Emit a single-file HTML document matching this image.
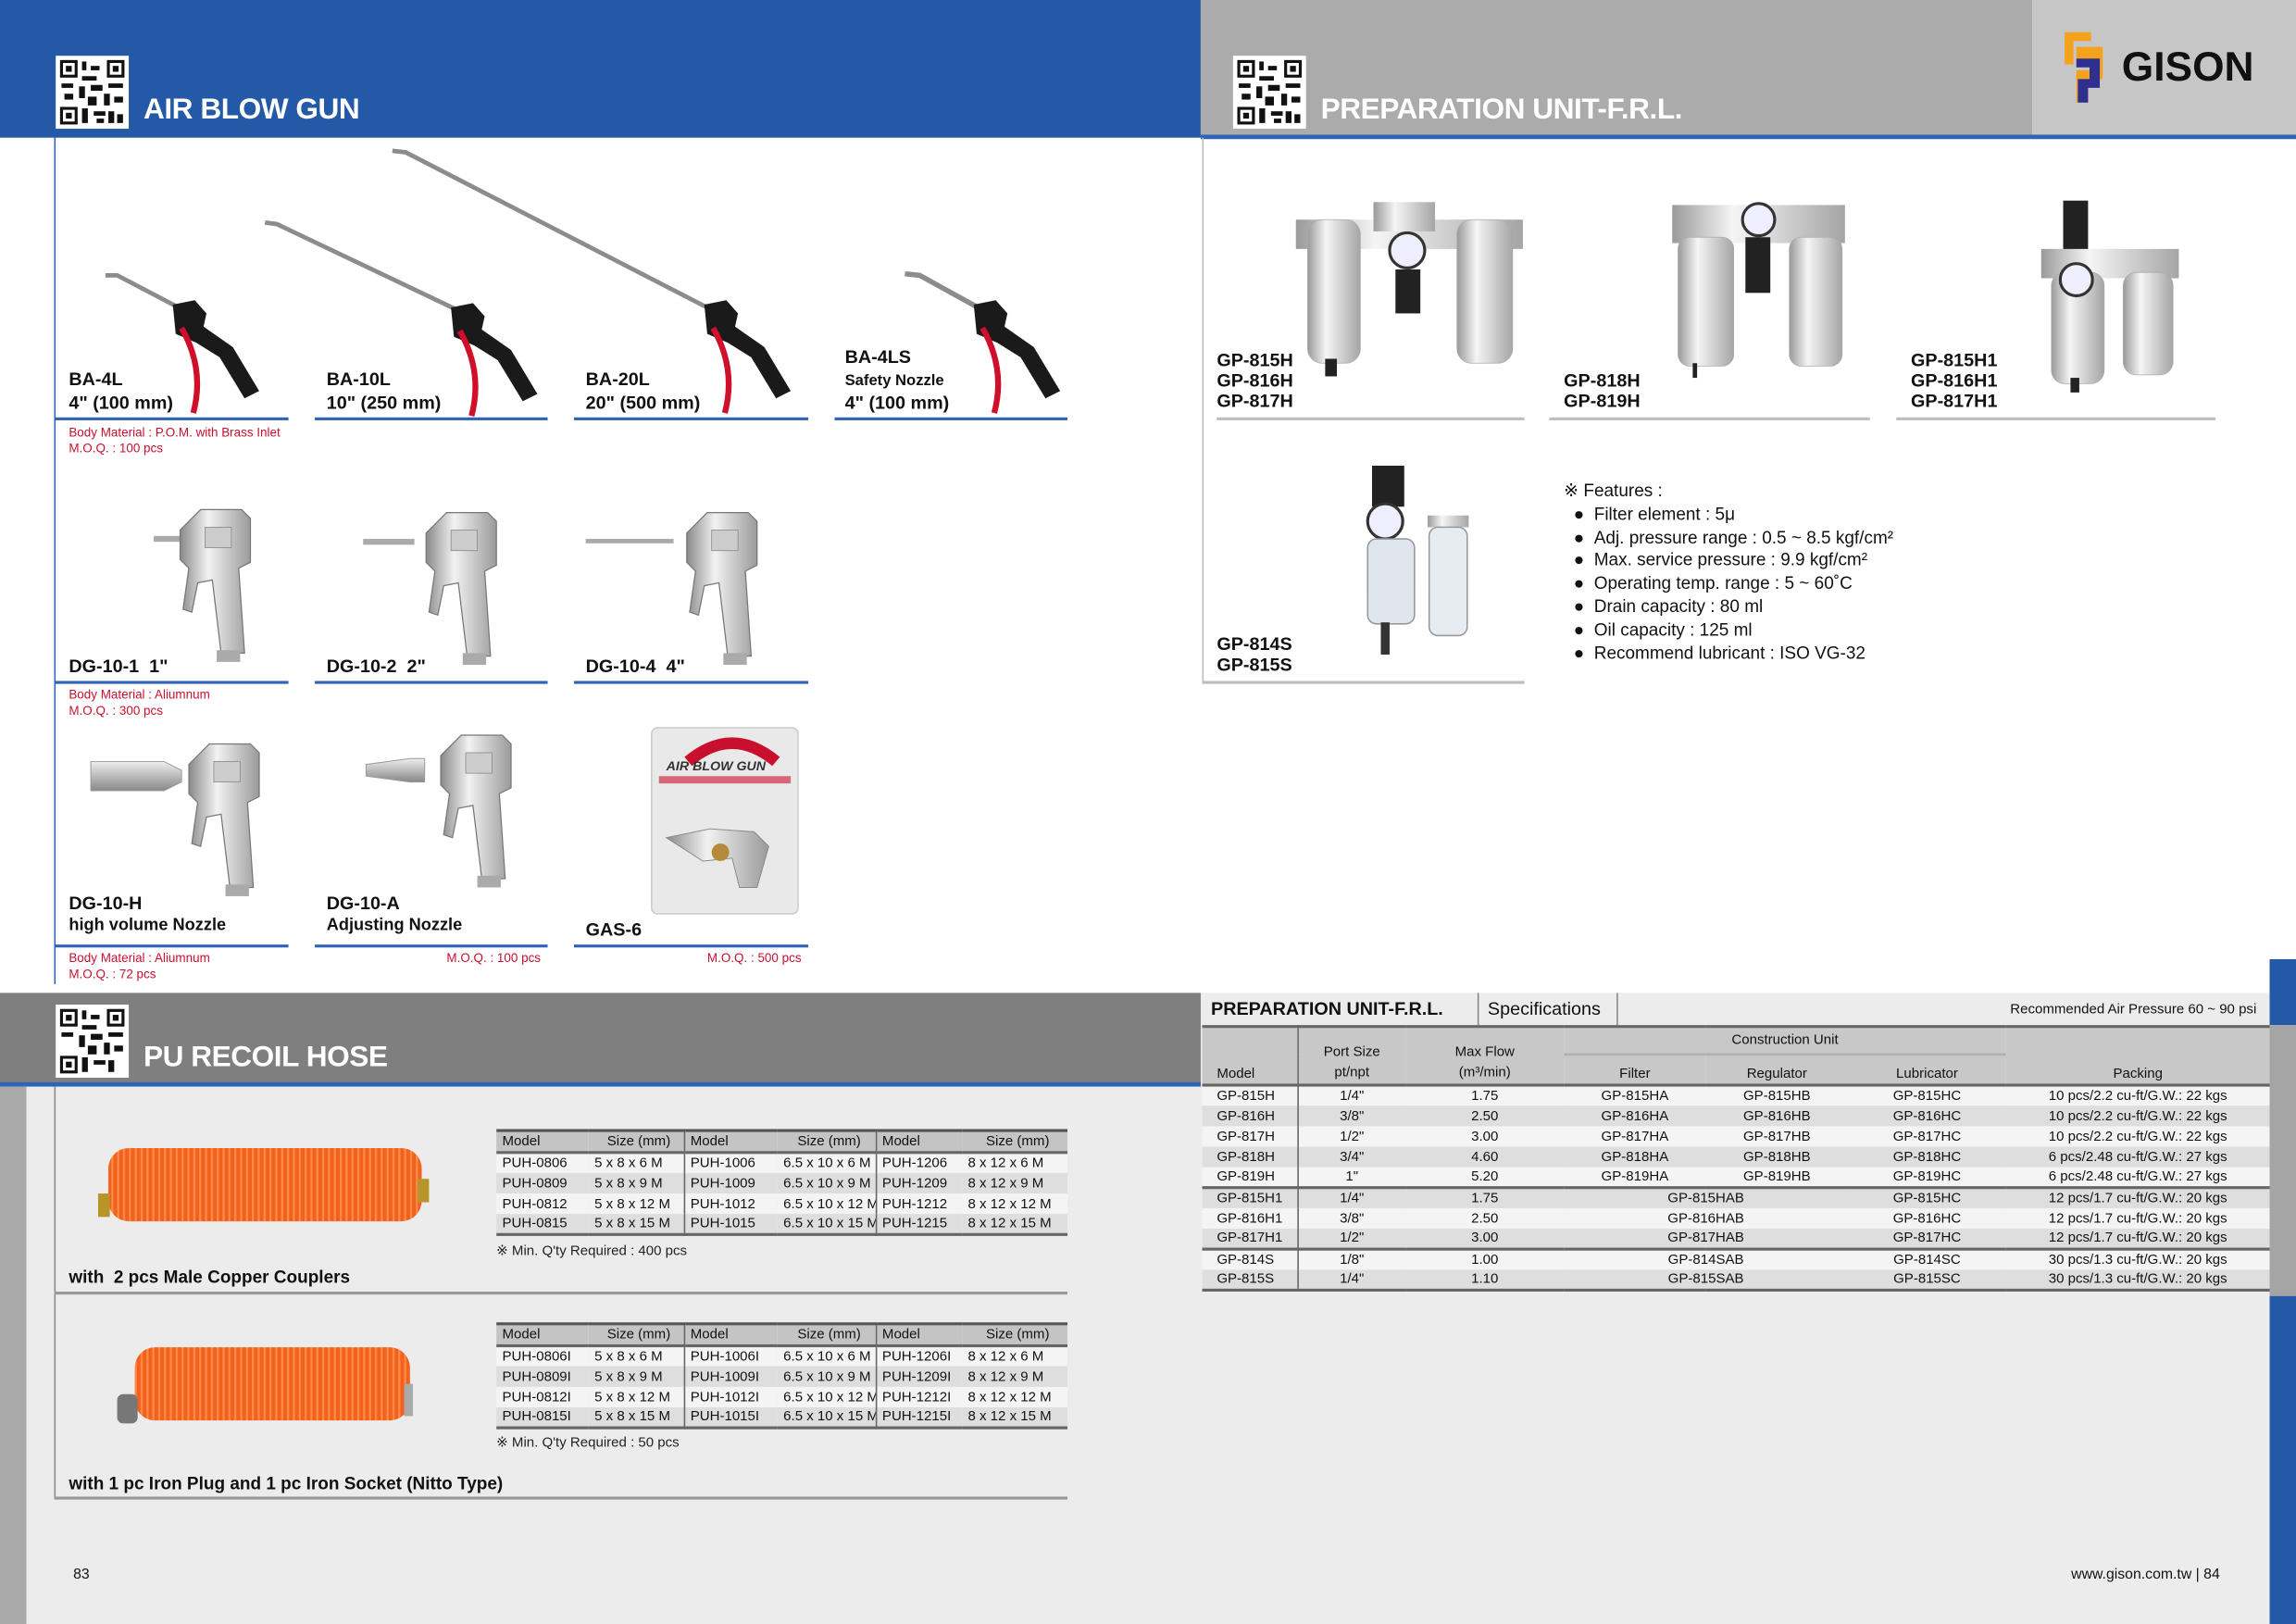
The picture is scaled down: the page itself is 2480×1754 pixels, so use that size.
<!DOCTYPE html>
<html><head><meta charset="utf-8"><style>
*{margin:0;padding:0;box-sizing:border-box}
body{width:2480px;height:1754px;overflow:hidden;background:#fff;font-family:"Liberation Sans",Arial,sans-serif}
#pg{position:absolute;left:0;top:0;width:1568px;height:1109px;transform:scale(1.58163);transform-origin:0 0;background:#fff;overflow:hidden}
.a{position:absolute;white-space:nowrap}
.b{font-weight:bold}
.lab{font-size:12.5px;font-weight:bold;color:#111;line-height:16px}
.red{font-size:8.5px;color:#c8102e;line-height:11px}
.ul{position:absolute;height:2px;background:#2f63b5}
.gl{position:absolute;height:2px;background:#bdbdbd}
table{border-collapse:collapse;position:absolute;font-size:9.5px;color:#111;table-layout:fixed}
td{padding:0 0 0 4px;height:14px;line-height:13px;white-space:nowrap;overflow:hidden}
.ht td{background:#c4c4c4;border-top:2px solid #555;border-bottom:2px solid #666}
.r1 td{background:#f4f4f4}.r2 td{background:#dedede}
.ft td{text-align:center;padding:0}
</style></head><body><div id="pg">

<div class="a" style="left:0;top:0;width:820px;height:94px;background:#2359a6"></div>
<div class="a" style="left:820px;top:0;width:568px;height:93px;background:#ababab"></div>
<div class="a" style="left:1388px;top:0;width:180px;height:93px;background:#c6c6c6"></div>
<div class="a" style="left:820px;top:92px;width:748px;height:3px;background:#2f63b5"></div>

<svg class="a" style="left:38px;top:38px" width="50" height="50" viewBox="0 0 50 50"><rect width="50" height="50" fill="#fff"/><g fill="#111"><rect x="3" y="3" width="12" height="12"/><rect x="35" y="3" width="12" height="12"/><rect x="3" y="35" width="12" height="12"/></g><g fill="#fff"><rect x="5" y="5" width="8" height="8"/><rect x="37" y="5" width="8" height="8"/><rect x="5" y="37" width="8" height="8"/></g><g fill="#111"><rect x="7" y="7" width="4" height="4"/><rect x="39" y="7" width="4" height="4"/><rect x="7" y="39" width="4" height="4"/><rect x="18" y="4" width="3" height="6"/><rect x="24" y="7" width="6" height="3"/><rect x="18" y="14" width="10" height="3"/><rect x="4" y="19" width="8" height="3"/><rect x="16" y="21" width="4" height="8"/><rect x="24" y="20" width="8" height="4"/><rect x="36" y="19" width="10" height="3"/><rect x="33" y="26" width="4" height="8"/><rect x="40" y="28" width="6" height="4"/><rect x="6" y="26" width="6" height="4"/><rect x="22" y="28" width="6" height="6"/><rect x="18" y="36" width="4" height="10"/><rect x="26" y="38" width="8" height="3"/><rect x="36" y="38" width="4" height="8"/><rect x="42" y="40" width="4" height="6"/><rect x="28" y="43" width="5" height="3"/></g></svg>
<svg class="a" style="left:842px;top:38px" width="50" height="50" viewBox="0 0 50 50"><rect width="50" height="50" fill="#fff"/><g fill="#111"><rect x="3" y="3" width="12" height="12"/><rect x="35" y="3" width="12" height="12"/><rect x="3" y="35" width="12" height="12"/></g><g fill="#fff"><rect x="5" y="5" width="8" height="8"/><rect x="37" y="5" width="8" height="8"/><rect x="5" y="37" width="8" height="8"/></g><g fill="#111"><rect x="7" y="7" width="4" height="4"/><rect x="39" y="7" width="4" height="4"/><rect x="7" y="39" width="4" height="4"/><rect x="18" y="4" width="3" height="6"/><rect x="24" y="7" width="6" height="3"/><rect x="18" y="14" width="10" height="3"/><rect x="4" y="19" width="8" height="3"/><rect x="16" y="21" width="4" height="8"/><rect x="24" y="20" width="8" height="4"/><rect x="36" y="19" width="10" height="3"/><rect x="33" y="26" width="4" height="8"/><rect x="40" y="28" width="6" height="4"/><rect x="6" y="26" width="6" height="4"/><rect x="22" y="28" width="6" height="6"/><rect x="18" y="36" width="4" height="10"/><rect x="26" y="38" width="8" height="3"/><rect x="36" y="38" width="4" height="8"/><rect x="42" y="40" width="4" height="6"/><rect x="28" y="43" width="5" height="3"/></g></svg>

<div class="a b" style="left:98px;top:64px;font-size:20px;color:#fff;letter-spacing:-0.3px">AIR BLOW GUN</div>
<div class="a b" style="left:902px;top:64px;font-size:20px;color:#fff;letter-spacing:-0.3px">PREPARATION UNIT-F.R.L.</div>
<svg class="a" style="left:1408px;top:20px" width="36" height="52" viewBox="0 0 36 52"><path d="M2 2h18v6H8v16H2z" fill="#f4a21c"/><path d="M10 12h18v22H18v16h-8V28h10V20H10z" fill="#f4a21c"/><path d="M10 20h16v20H18v10h-7V34h8v-8h-9z" fill="#2f2f8f"/></svg>
<div class="a b" style="left:1449px;top:30px;font-size:28px;color:#111">GISON</div>

<div class="a" style="left:37px;top:94px;width:1px;height:578px;background:#2f63b5"></div>
<div class="a" style="left:821px;top:94px;width:1px;height:372px;background:#bbb"></div>

<svg class="a" style="left:0;top:94px" width="820" height="580" viewBox="0 94 820 580">
<defs><linearGradient id="sv" x1="0" x2="1"><stop offset="0" stop-color="#8a8a8a"/><stop offset=".4" stop-color="#f2f2f2"/><stop offset="1" stop-color="#9a9a9a"/></linearGradient>
<linearGradient id="sv2" x1="0" y1="0" x2="0" y2="1"><stop offset="0" stop-color="#eee"/><stop offset=".5" stop-color="#bbb"/><stop offset="1" stop-color="#888"/></linearGradient>
<g id="h"><path d="M-2 0l15-3 8 9-2 9 20 14 18 30-10 5-17-28-16-10-14-6z" fill="#1a1a1a"/><path d="M4 16q16 28 8 58" stroke="#d0102a" stroke-width="4" fill="none"/></g>
<g id="dg"><path d="M25 0h28l6 6v30l-8 4 4 58h-16l-6-50-10 2-4 20-6-2 4-28-6-6v-20z" fill="url(#sv)" stroke="#777" stroke-width=".8"/><rect x="28" y="12" width="18" height="14" fill="#ccc" stroke="#888" stroke-width=".5"/><rect x="36" y="96" width="16" height="8" fill="#aaa"/></g></defs>
<path d="M72 188l8 0 42 22" stroke="#8c8c8c" stroke-width="3" fill="none"/>
<use href="#h" x="120" y="208"/>
<path d="M181 152l8 1 124 59" stroke="#8c8c8c" stroke-width="3" fill="none"/>
<use href="#h" x="310" y="210"/>
<path d="M268 103l9 1 206 106" stroke="#8c8c8c" stroke-width="3" fill="none"/>
<use href="#h" x="483" y="208"/>
<path d="M618 187l10 1 40 22" stroke="#8c8c8c" stroke-width="3.5" fill="none"/>
<use href="#h" x="667" y="208"/>
<rect x="105" y="366" width="25" height="4" fill="#aaa"/><use href="#dg" x="112" y="348"/>
<rect x="248" y="368" width="35" height="4" fill="#aaa"/><use href="#dg" x="280" y="350"/>
<rect x="400" y="368" width="60" height="3" fill="#aaa"/><use href="#dg" x="458" y="350"/>
<path d="M62 520h50l12 6v8l-12 6h-50z" fill="url(#sv2)" stroke="#999" stroke-width=".6"/><use href="#dg" x="118" y="508"/>
<path d="M250 522l30-4h10v16h-10l-30-4z" fill="url(#sv2)" stroke="#999" stroke-width=".6"/><use href="#dg" x="290" y="502"/>
<rect x="445" y="497" width="100" height="127" rx="4" fill="#e9e9e9" stroke="#ccc"/>
<path d="M470 520q30-25 60 0" stroke="#c8102e" stroke-width="8" fill="none"/>
<text x="455" y="526" font-family="Liberation Sans" font-size="9" font-weight="bold" font-style="italic" fill="#333">AIR BLOW GUN</text>
<rect x="450" y="530" width="90" height="5" fill="#c8102e" opacity=".6"/>
<path d="M455 572l30-6 30 2 10 10-8 28-12 0-5-20-20 2z" fill="url(#sv)" stroke="#888" stroke-width=".6"/>
<circle cx="492" cy="582" r="6" fill="#b58a3a"/>
</svg>

<div class="a lab" style="left:47px;top:251px">BA-4L<br>4" (100 mm)</div>
<div class="a lab" style="left:223px;top:251px">BA-10L<br>10" (250 mm)</div>
<div class="a lab" style="left:400px;top:251px">BA-20L<br>20" (500 mm)</div>
<div class="a lab" style="left:577px;top:236px">BA-4LS</div>
<div class="a b" style="left:577px;top:254px;font-size:10.5px;color:#111">Safety Nozzle</div>
<div class="a lab" style="left:577px;top:267px">4" (100 mm)</div>
<div class="ul" style="left:37px;top:285px;width:160px"></div><div class="ul" style="left:215px;top:285px;width:159px"></div><div class="ul" style="left:392px;top:285px;width:160px"></div><div class="ul" style="left:570px;top:285px;width:159px"></div>
<div class="a red" style="left:47px;top:290px">Body Material : P.O.M. with Brass Inlet<br>M.O.Q. : 100 pcs</div>

<div class="a lab" style="left:47px;top:447px">DG-10-1&nbsp; 1"</div>
<div class="a lab" style="left:223px;top:447px">DG-10-2&nbsp; 2"</div>
<div class="a lab" style="left:400px;top:447px">DG-10-4&nbsp; 4"</div>
<div class="ul" style="left:37px;top:465px;width:160px"></div><div class="ul" style="left:215px;top:465px;width:159px"></div><div class="ul" style="left:392px;top:465px;width:160px"></div>
<div class="a red" style="left:47px;top:469px">Body Material : Aliumnum<br>M.O.Q. : 300 pcs</div>

<div class="a lab" style="left:47px;top:609px">DG-10-H</div>
<div class="a b" style="left:47px;top:626px;font-size:11.5px;color:#111">high volume Nozzle</div>
<div class="a lab" style="left:223px;top:609px">DG-10-A</div>
<div class="a b" style="left:223px;top:626px;font-size:11.5px;color:#111">Adjusting Nozzle</div>
<div class="a lab" style="left:400px;top:627px">GAS-6</div>
<div class="ul" style="left:37px;top:645px;width:160px"></div><div class="ul" style="left:215px;top:645px;width:159px"></div><div class="ul" style="left:392px;top:645px;width:160px"></div>
<div class="a red" style="left:47px;top:649px">Body Material : Aliumnum<br>M.O.Q. : 72 pcs</div>
<div class="a red" style="left:305px;top:649px">M.O.Q. : 100 pcs</div>
<div class="a red" style="left:483px;top:649px">M.O.Q. : 500 pcs</div>

<svg class="a" style="left:822px;top:94px" width="746" height="380" viewBox="822 94 746 380">
<defs><linearGradient id="c" x1="0" x2="1"><stop offset="0" stop-color="#9a9a9a"/><stop offset=".35" stop-color="#f5f5f5"/><stop offset="1" stop-color="#a5a5a5"/></linearGradient></defs>
<rect x="885" y="150" width="155" height="20" fill="url(#c)"/>
<rect x="893" y="150" width="36" height="98" rx="10" fill="url(#c)" stroke="#aaa" stroke-width=".5"/>
<rect x="995" y="150" width="38" height="98" rx="10" fill="url(#c)" stroke="#aaa" stroke-width=".5"/>
<rect x="938" y="138" width="42" height="20" fill="url(#c)"/>
<circle cx="961" cy="171" r="12" fill="#eef" stroke="#333" stroke-width="2"/>
<rect x="953" y="184" width="17" height="30" fill="#222"/>
<rect x="905" y="245" width="8" height="12" fill="#222"/>
<rect x="1142" y="140" width="118" height="26" fill="url(#c)"/>
<circle cx="1201" cy="150" r="11" fill="#eef" stroke="#333" stroke-width="2"/>
<rect x="1146" y="162" width="38" height="88" rx="8" fill="url(#c)" stroke="#aaa" stroke-width=".5"/>
<rect x="1222" y="162" width="36" height="88" rx="8" fill="url(#c)" stroke="#aaa" stroke-width=".5"/>
<rect x="1192" y="162" width="17" height="38" fill="#222"/>
<rect x="1156" y="248" width="3" height="10" fill="#222"/>
<rect x="1409" y="137" width="17" height="35" fill="#222"/>
<rect x="1394" y="170" width="94" height="20" fill="url(#c)"/>
<rect x="1401" y="186" width="36" height="76" rx="9" fill="url(#c)" stroke="#aaa" stroke-width=".5"/>
<rect x="1450" y="186" width="34" height="70" rx="9" fill="url(#c)" stroke="#aaa" stroke-width=".5"/>
<circle cx="1418" cy="191" r="11" fill="#eef" stroke="#333" stroke-width="2"/>
<rect x="1414" y="258" width="6" height="10" fill="#222"/>
<rect x="937" y="318" width="22" height="28" fill="#222"/>
<circle cx="946" cy="356" r="12" fill="#eef" stroke="#333" stroke-width="2"/>
<rect x="934" y="368" width="32" height="58" rx="6" fill="#dfe6ee" stroke="#999"/>
<rect x="975" y="352" width="28" height="8" fill="url(#c)"/>
<rect x="976" y="360" width="26" height="74" rx="6" fill="#e6ecf2" stroke="#999"/>
<rect x="943" y="425" width="6" height="22" fill="#333"/>
</svg>
<div class="a lab" style="left:831px;top:239px;line-height:14px">GP-815H<br>GP-816H<br>GP-817H</div>
<div class="a lab" style="left:1068px;top:253px;line-height:14px">GP-818H<br>GP-819H</div>
<div class="a lab" style="left:1305px;top:239px;line-height:14px">GP-815H1<br>GP-816H1<br>GP-817H1</div>
<div class="a lab" style="left:831px;top:433px;line-height:14px">GP-814S<br>GP-815S</div>
<div class="gl" style="left:831px;top:285px;width:210px"></div><div class="gl" style="left:1058px;top:285px;width:219px"></div><div class="gl" style="left:1295px;top:285px;width:218px"></div>
<div class="gl" style="left:821px;top:465px;width:220px"></div>
<div class="a" style="left:1068px;top:328px;font-size:12px;color:#111;line-height:15.8px">※ Features :<br>
&nbsp;&nbsp;●&nbsp; Filter element : 5μ<br>&nbsp;&nbsp;●&nbsp; Adj. pressure range : 0.5 ~ 8.5 kgf/cm²<br>&nbsp;&nbsp;●&nbsp; Max. service pressure : 9.9 kgf/cm²<br>&nbsp;&nbsp;●&nbsp; Operating temp. range : 5 ~ 60˚C<br>&nbsp;&nbsp;●&nbsp; Drain capacity : 80 ml<br>&nbsp;&nbsp;●&nbsp; Oil capacity : 125 ml<br>&nbsp;&nbsp;●&nbsp; Recommend lubricant : ISO VG-32</div>

<div class="a" style="left:0;top:678px;width:1568px;height:431px;background:#ececec"></div>
<div class="a" style="left:0;top:678px;width:820px;height:62px;background:#7f7f7f"></div>
<div class="a" style="left:0;top:739px;width:820px;height:3px;background:#2f63b5"></div>
<div class="a" style="left:0;top:742px;width:18px;height:367px;background:#aaa"></div>
<div class="a" style="left:37px;top:742px;width:1px;height:282px;background:#888"></div>
<div class="a" style="left:1550px;top:655px;width:18px;height:45px;background:#2359a6"></div>
<div class="a" style="left:1550px;top:700px;width:18px;height:185px;background:#a5a5a5"></div>
<div class="a" style="left:1550px;top:885px;width:18px;height:224px;background:#2359a6"></div>
<svg class="a" style="left:38px;top:686px" width="50" height="50" viewBox="0 0 50 50"><rect width="50" height="50" fill="#fff"/><g fill="#111"><rect x="3" y="3" width="12" height="12"/><rect x="35" y="3" width="12" height="12"/><rect x="3" y="35" width="12" height="12"/></g><g fill="#fff"><rect x="5" y="5" width="8" height="8"/><rect x="37" y="5" width="8" height="8"/><rect x="5" y="37" width="8" height="8"/></g><g fill="#111"><rect x="7" y="7" width="4" height="4"/><rect x="39" y="7" width="4" height="4"/><rect x="7" y="39" width="4" height="4"/><rect x="18" y="4" width="3" height="6"/><rect x="24" y="7" width="6" height="3"/><rect x="18" y="14" width="10" height="3"/><rect x="4" y="19" width="8" height="3"/><rect x="16" y="21" width="4" height="8"/><rect x="24" y="20" width="8" height="4"/><rect x="36" y="19" width="10" height="3"/><rect x="33" y="26" width="4" height="8"/><rect x="40" y="28" width="6" height="4"/><rect x="22" y="28" width="6" height="6"/><rect x="18" y="36" width="4" height="10"/><rect x="26" y="38" width="8" height="3"/><rect x="36" y="38" width="4" height="8"/></g></svg>
<div class="a b" style="left:98px;top:711px;font-size:20px;color:#fff;letter-spacing:-0.3px">PU RECOIL HOSE</div>

<svg class="a" style="left:60px;top:770px" width="250" height="220" viewBox="60 770 250 220">
<defs><pattern id="coil" width="4" height="10" patternUnits="userSpaceOnUse"><rect width="4" height="10" fill="#f2621c"/><rect width="1.4" height="10" fill="#ff8a4a"/></pattern></defs>
<rect x="74" y="784" width="214" height="50" rx="14" fill="url(#coil)"/>
<rect x="67" y="815" width="8" height="16" fill="#b8952a"/><rect x="285" y="805" width="8" height="16" fill="#b8952a"/>
<rect x="92" y="920" width="188" height="50" rx="14" fill="url(#coil)"/>
<rect x="80" y="952" width="14" height="20" rx="4" fill="#777"/><rect x="276" y="945" width="6" height="22" fill="#aaa"/>
</svg>

<table style="left:339px;top:771px;width:390px">
<colgroup><col style="width:63px"><col style="width:65px"><col style="width:64px"><col style="width:67px"><col style="width:59px"><col style="width:72px"></colgroup>
<tr class="ht"><td>Model</td><td style="text-align:center">Size (mm)</td><td style="border-left:1px solid #666">Model</td><td style="text-align:center">Size (mm)</td><td style="border-left:1px solid #666">Model</td><td style="text-align:center">Size (mm)</td></tr>
<tr class="r1"><td>PUH-0806</td><td>5 x 8 x 6 M</td><td style="border-left:1px solid #666">PUH-1006</td><td>6.5 x 10 x 6 M</td><td style="border-left:1px solid #666">PUH-1206</td><td>8 x 12 x 6 M</td></tr>
<tr class="r2"><td>PUH-0809</td><td>5 x 8 x 9 M</td><td style="border-left:1px solid #666">PUH-1009</td><td>6.5 x 10 x 9 M</td><td style="border-left:1px solid #666">PUH-1209</td><td>8 x 12 x 9 M</td></tr>
<tr class="r1"><td>PUH-0812</td><td>5 x 8 x 12 M</td><td style="border-left:1px solid #666">PUH-1012</td><td>6.5 x 10 x 12 M</td><td style="border-left:1px solid #666">PUH-1212</td><td>8 x 12 x 12 M</td></tr>
<tr class="r2" style="border-bottom:2px solid #666"><td>PUH-0815</td><td>5 x 8 x 15 M</td><td style="border-left:1px solid #666">PUH-1015</td><td>6.5 x 10 x 15 M</td><td style="border-left:1px solid #666">PUH-1215</td><td>8 x 12 x 15 M</td></tr>
</table>
<div class="a" style="left:339px;top:849px;font-size:9.5px;color:#222">※ Min. Q'ty Required : 400 pcs</div>
<div class="a b" style="left:47px;top:865px;font-size:12px;color:#111">with&nbsp; 2 pcs Male Copper Couplers</div>
<div class="a" style="left:37px;top:882px;width:692px;height:2px;background:#999"></div>

<table style="left:339px;top:903px;width:390px">
<colgroup><col style="width:63px"><col style="width:65px"><col style="width:64px"><col style="width:67px"><col style="width:59px"><col style="width:72px"></colgroup>
<tr class="ht"><td>Model</td><td style="text-align:center">Size (mm)</td><td style="border-left:1px solid #666">Model</td><td style="text-align:center">Size (mm)</td><td style="border-left:1px solid #666">Model</td><td style="text-align:center">Size (mm)</td></tr>
<tr class="r1"><td>PUH-0806I</td><td>5 x 8 x 6 M</td><td style="border-left:1px solid #666">PUH-1006I</td><td>6.5 x 10 x 6 M</td><td style="border-left:1px solid #666">PUH-1206I</td><td>8 x 12 x 6 M</td></tr>
<tr class="r2"><td>PUH-0809I</td><td>5 x 8 x 9 M</td><td style="border-left:1px solid #666">PUH-1009I</td><td>6.5 x 10 x 9 M</td><td style="border-left:1px solid #666">PUH-1209I</td><td>8 x 12 x 9 M</td></tr>
<tr class="r1"><td>PUH-0812I</td><td>5 x 8 x 12 M</td><td style="border-left:1px solid #666">PUH-1012I</td><td>6.5 x 10 x 12 M</td><td style="border-left:1px solid #666">PUH-1212I</td><td>8 x 12 x 12 M</td></tr>
<tr class="r2" style="border-bottom:2px solid #666"><td>PUH-0815I</td><td>5 x 8 x 15 M</td><td style="border-left:1px solid #666">PUH-1015I</td><td>6.5 x 10 x 15 M</td><td style="border-left:1px solid #666">PUH-1215I</td><td>8 x 12 x 15 M</td></tr>
</table>
<div class="a" style="left:339px;top:980px;font-size:9.5px;color:#222">※ Min. Q'ty Required : 50 pcs</div>
<div class="a b" style="left:47px;top:1006px;font-size:12px;color:#111">with 1 pc Iron Plug and 1 pc Iron Socket (Nitto Type)</div>
<div class="a" style="left:37px;top:1022px;width:692px;height:2px;background:#999"></div>

<div class="a b" style="left:827px;top:682px;font-size:12.5px;color:#111">PREPARATION UNIT-F.R.L.</div>
<div class="a" style="left:1009px;top:678px;width:96px;height:22px;border-left:1px solid #888;border-right:1px solid #888"></div>
<div class="a" style="left:1016px;top:682px;font-size:12.5px;color:#111">Specifications</div>
<div class="a" style="right:27px;top:684px;font-size:9.5px;color:#111">Recommended Air Pressure 60 ~ 90 psi</div>
<table class="ft" style="left:821px;top:700px;width:729px">
<colgroup><col style="width:65px"><col style="width:74px"><col style="width:108px"><col style="width:97px"><col style="width:97px"><col style="width:108px"><col style="width:180px"></colgroup>
<tr style="background:#c8c8c8;border-top:2px solid #666"><td rowspan="2" style="text-align:left;padding-left:10px;vertical-align:bottom;border-right:1px solid #666;height:40px">Model</td><td rowspan="2" style="line-height:14px;vertical-align:bottom">Port Size<br>pt/npt</td><td rowspan="2" style="line-height:14px;vertical-align:bottom">Max Flow<br>(m³/min)</td><td colspan="3" style="border-bottom:2px solid #b0b0b0;height:19px">Construction Unit</td><td rowspan="2" style="vertical-align:bottom">Packing</td></tr>
<tr style="background:#c8c8c8"><td style="height:20px;vertical-align:bottom">Filter</td><td style="vertical-align:bottom">Regulator</td><td style="vertical-align:bottom">Lubricator</td></tr>
<tr class="r1" style="border-top:2px solid #666"><td style="text-align:left;padding-left:10px;border-right:1px solid #666">GP-815H</td><td>1/4"</td><td>1.75</td><td>GP-815HA</td><td>GP-815HB</td><td>GP-815HC</td><td>10 pcs/2.2 cu-ft/G.W.: 22 kgs</td></tr>
<tr class="r2"><td style="text-align:left;padding-left:10px;border-right:1px solid #666">GP-816H</td><td>3/8"</td><td>2.50</td><td>GP-816HA</td><td>GP-816HB</td><td>GP-816HC</td><td>10 pcs/2.2 cu-ft/G.W.: 22 kgs</td></tr>
<tr class="r1"><td style="text-align:left;padding-left:10px;border-right:1px solid #666">GP-817H</td><td>1/2"</td><td>3.00</td><td>GP-817HA</td><td>GP-817HB</td><td>GP-817HC</td><td>10 pcs/2.2 cu-ft/G.W.: 22 kgs</td></tr>
<tr class="r2"><td style="text-align:left;padding-left:10px;border-right:1px solid #666">GP-818H</td><td>3/4"</td><td>4.60</td><td>GP-818HA</td><td>GP-818HB</td><td>GP-818HC</td><td>6 pcs/2.48 cu-ft/G.W.: 27 kgs</td></tr>
<tr class="r1"><td style="text-align:left;padding-left:10px;border-right:1px solid #666">GP-819H</td><td>1"</td><td>5.20</td><td>GP-819HA</td><td>GP-819HB</td><td>GP-819HC</td><td>6 pcs/2.48 cu-ft/G.W.: 27 kgs</td></tr>
<tr class="r2" style="border-top:2px solid #666"><td style="text-align:left;padding-left:10px;border-right:1px solid #666">GP-815H1</td><td>1/4"</td><td>1.75</td><td colspan="2">GP-815HAB</td><td>GP-815HC</td><td>12 pcs/1.7 cu-ft/G.W.: 20 kgs</td></tr>
<tr class="r1"><td style="text-align:left;padding-left:10px;border-right:1px solid #666">GP-816H1</td><td>3/8"</td><td>2.50</td><td colspan="2">GP-816HAB</td><td>GP-816HC</td><td>12 pcs/1.7 cu-ft/G.W.: 20 kgs</td></tr>
<tr class="r2"><td style="text-align:left;padding-left:10px;border-right:1px solid #666">GP-817H1</td><td>1/2"</td><td>3.00</td><td colspan="2">GP-817HAB</td><td>GP-817HC</td><td>12 pcs/1.7 cu-ft/G.W.: 20 kgs</td></tr>
<tr class="r1" style="border-top:2px solid #666"><td style="text-align:left;padding-left:10px;border-right:1px solid #666">GP-814S</td><td>1/8"</td><td>1.00</td><td colspan="2">GP-814SAB</td><td>GP-814SC</td><td>30 pcs/1.3 cu-ft/G.W.: 20 kgs</td></tr>
<tr class="r2" style="border-bottom:2px solid #666"><td style="text-align:left;padding-left:10px;border-right:1px solid #666">GP-815S</td><td>1/4"</td><td>1.10</td><td colspan="2">GP-815SAB</td><td>GP-815SC</td><td>30 pcs/1.3 cu-ft/G.W.: 20 kgs</td></tr>
</table>

<div class="a" style="left:50px;top:1070px;font-size:10px;color:#111">83</div>
<div class="a" style="right:52px;top:1070px;font-size:10px;color:#111">www.gison.com.tw | 84</div>
</div></body></html>
